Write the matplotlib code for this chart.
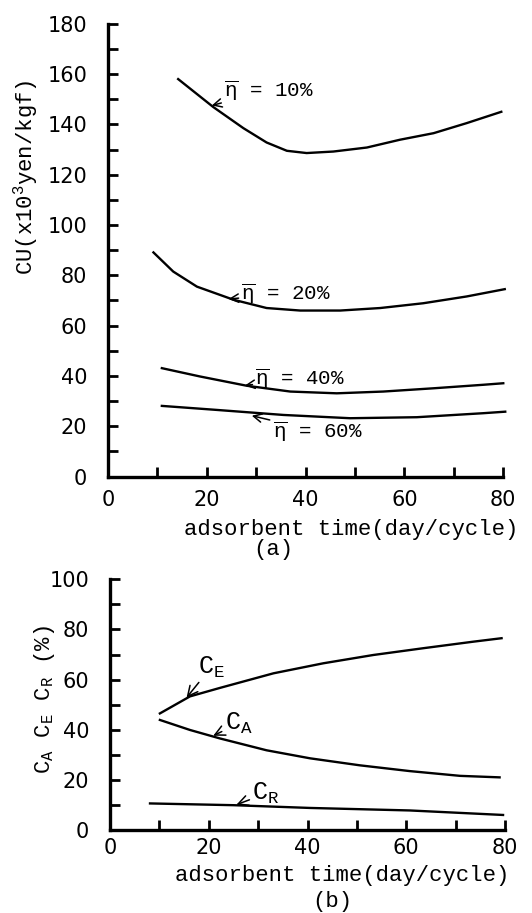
import matplotlib.pyplot as plt

plt.rcParams['mathtext.fontset'] = 'custom'
plt.rcParams['mathtext.rm'] = 'Liberation Mono'
plt.rcParams['mathtext.it'] = 'Liberation Mono'

MONO = 'Liberation Mono'
SANS = 'DejaVu Sans'

# (a) unit cost curves
eta10_x = [14.2, 21.3, 27.4, 32.1, 36.2, 40.2, 45.6, 52.4, 59.1, 65.9, 72.6, 79.6]
eta10_y = [158.0, 146.9, 138.5, 132.8, 129.5, 128.6, 129.2, 130.8, 133.9, 136.5, 140.5, 145.0]
eta20_x = [9.2, 13.2, 18.0, 25.4, 32.1, 38.9, 47.0, 55.1, 63.8, 72.6, 80.3]
eta20_y = [89.1, 81.5, 75.5, 70.3, 67.0, 66.0, 66.0, 67.0, 68.9, 71.6, 74.5]
eta40_x = [10.9, 18.6, 28.1, 36.9, 46.3, 55.7, 65.9, 76.0, 80.0]
eta40_y = [43.1, 39.8, 36.1, 33.8, 33.1, 33.8, 35.1, 36.5, 37.1]
eta60_x = [10.9, 22.0, 35.5, 49.0, 62.5, 76.0, 80.4]
eta60_y = [28.1, 26.5, 24.5, 23.2, 23.6, 25.2, 25.8]

# (b) cost shares
ce_x = [10.1, 16.2, 22.3, 33.1, 43.2, 53.3, 63.4, 73.5, 79.3]
ce_y = [46.5, 53.3, 56.7, 62.5, 66.5, 69.8, 72.5, 75.1, 76.5]
ca_x = [10.1, 16.2, 22.3, 31.7, 40.5, 50.6, 60.7, 70.9, 78.9]
ca_y = [43.9, 39.9, 36.5, 31.8, 28.6, 25.8, 23.5, 21.6, 21.0]
cr_x = [8.1, 25.0, 40.5, 60.7, 79.6]
cr_y = [10.6, 9.9, 8.8, 7.8, 6.0]


def style_axes(ax, ymax, ystep, xpad):
    for s in ['top', 'right']:
        ax.spines[s].set_visible(False)
    for s in ['left', 'bottom']:
        ax.spines[s].set_linewidth(2.4)
    ax.set_xlim(0, 80)
    ax.set_ylim(0, ymax)
    ax.set_xticks(range(0, 81, 10))
    ax.set_xticklabels(['0', '', '20', '', '40', '', '60', '', '80'])
    ax.set_yticks(range(0, ymax + 1, 10))
    ax.set_yticklabels([str(v) if v % ystep == 0 else '' for v in range(0, ymax + 1, 10)])
    ax.tick_params(direction='in', length=7, width=2, labelsize=15)
    ax.tick_params(axis='y', pad=15)
    ax.tick_params(axis='x', pad=xpad)
    for lab in ax.get_xticklabels() + ax.get_yticklabels():
        lab.set_family(SANS)


fig = plt.figure(figsize=(5.32, 9.13), dpi=100)

ax1 = fig.add_axes([0.203, 0.478, 0.743, 0.496])
style_axes(ax1, 180, 20, 10)
for xs, ys in [(eta10_x, eta10_y), (eta20_x, eta20_y), (eta40_x, eta40_y), (eta60_x, eta60_y)]:
    ax1.plot(xs, ys, color='black', lw=1.7, clip_on=False, solid_joinstyle='round')

arr = dict(arrowstyle='->', lw=1.1, color='black', shrinkA=0, shrinkB=0)
ax1.annotate(r'$\overline{\eta}$ = 10%', xy=(21.0, 147.5), xytext=(23.5, 153.5),
             fontsize=15, family=MONO, va='center', arrowprops=arr)
ax1.annotate(r'$\overline{\eta}$ = 20%', xy=(24.4, 70.6), xytext=(27.0, 72.5),
             fontsize=15, family=MONO, va='center', arrowprops=arr)
ax1.annotate(r'$\overline{\eta}$ = 40%', xy=(27.7, 36.2), xytext=(29.8, 39.0),
             fontsize=15, family=MONO, va='center', arrowprops=arr)
ax1.annotate(r'$\overline{\eta}$ = 60%', xy=(29.1, 24.2), xytext=(33.3, 18.0),
             fontsize=15, family=MONO, va='center', arrowprops=arr)

ax1.set_ylabel(r'CU(x10$^3$yen/kgf)', family=MONO, fontsize=16)
ax1.yaxis.set_label_coords(-0.172, 0.66)
ax1.set_xlabel('adsorbent time(day/cycle)', family=MONO, fontsize=16)
ax1.xaxis.set_label_coords(0.615, -0.093)
fig.text(273 / 532, 1 - 549 / 913, '(a)', family=MONO, fontsize=16, ha='center', va='center')

ax2 = fig.add_axes([0.2068, 0.0909, 0.7425, 0.2746])
style_axes(ax2, 100, 20, 6)
for xs, ys in [(ce_x, ce_y), (ca_x, ca_y), (cr_x, cr_y)]:
    ax2.plot(xs, ys, color='black', lw=1.7, clip_on=False, solid_joinstyle='round')

ax2.annotate(r'C$_\mathrm{E}$', xy=(15.5, 52.8), xytext=(17.8, 65.0),
             fontsize=18, family=MONO, va='center', arrowprops=arr)
ax2.annotate(r'C$_\mathrm{A}$', xy=(20.9, 37.6), xytext=(23.2, 42.5),
             fontsize=18, family=MONO, va='center', arrowprops=arr)
ax2.annotate(r'C$_\mathrm{R}$', xy=(25.6, 10.1), xytext=(28.8, 14.5),
             fontsize=18, family=MONO, va='center', arrowprops=arr)

ax2.set_ylabel(r'C$_\mathrm{A}$ C$_\mathrm{E}$ C$_\mathrm{R}$ (%)', family=MONO, fontsize=16)
ax2.yaxis.set_label_coords(-0.133, 0.52)
ax2.set_xlabel('adsorbent time(day/cycle)', family=MONO, fontsize=16)
ax2.xaxis.set_label_coords(0.587, -0.14)
fig.text(332 / 532, 1 - 901 / 913, '(b)', family=MONO, fontsize=16, ha='center', va='center')

fig.savefig('out.png', dpi=100)
